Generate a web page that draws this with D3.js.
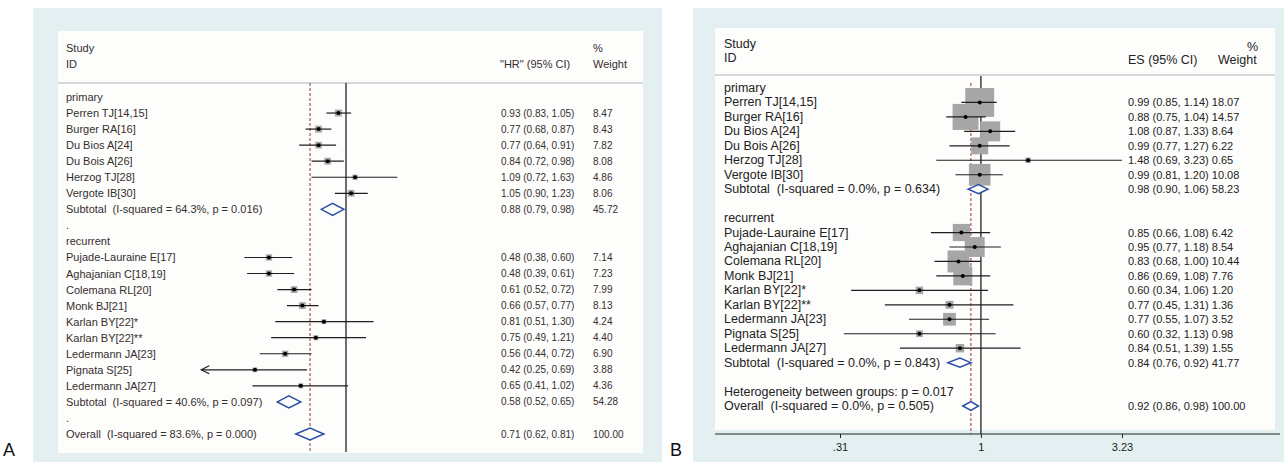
<!DOCTYPE html>
<html>
<head>
  <meta charset='utf-8'>
  <script src="https://d3js.org/d3.v7.min.js"></script>
  <style>
    body { margin: 0; background: #fff; }
    svg { display: block; font-family: 'Liberation Sans', Arial, sans-serif; }
    text { white-space: pre; }
  </style>
</head>
<body>
<script>
// Study labels (same order in both panels)
var primaryStudies = ['Perren TJ[14,15]', 'Burger RA[16]', 'Du Bios A[24]', 'Du Bois A[26]', 'Herzog TJ[28]', 'Vergote IB[30]'];
var recurrentStudies = ['Pujade-Lauraine E[17]', 'Aghajanian C[18,19]', 'Colemana RL[20]', 'Monk BJ[21]',
  'Karlan BY[22]*', 'Karlan BY[22]**', 'Ledermann JA[23]', 'Pignata S[25]', 'Ledermann JA[27]'];

// Panel A - HR per study
var hrA     = [0.93, 0.77, 0.77, 0.84, 1.09, 1.05, 0.48, 0.48, 0.61, 0.66, 0.81, 0.75, 0.56, 0.42, 0.65];
var hrLoA   = [0.83, 0.68, 0.64, 0.72, 0.72, 0.90, 0.38, 0.39, 0.52, 0.57, 0.51, 0.49, 0.44, 0.25, 0.41];
var hrHiA   = [1.05, 0.87, 0.91, 0.98, 1.63, 1.23, 0.60, 0.61, 0.72, 0.77, 1.30, 1.21, 0.72, 0.69, 1.02];
var weightA = [8.47, 8.43, 7.82, 8.08, 4.86, 8.06, 7.14, 7.23, 7.99, 8.13, 4.24, 4.40, 6.90, 3.88, 4.36];
var subLabelsA = ['Subtotal  (I-squared = 64.3%, p = 0.016)', 'Subtotal  (I-squared = 40.6%, p = 0.097)'];
var subEstA = [0.88, 0.58];
var subLoA  = [0.79, 0.52];
var subHiA  = [0.98, 0.65];
var subWA   = [45.72, 54.28];
var overallLabelA = 'Overall  (I-squared = 83.6%, p = 0.000)';
var overallA = [0.71, 0.62, 0.81, 100.00];

// Panel B - ES per study
var esB     = [0.99, 0.88, 1.08, 0.99, 1.48, 0.99, 0.85, 0.95, 0.83, 0.86, 0.60, 0.77, 0.77, 0.60, 0.84];
var esLoB   = [0.85, 0.75, 0.87, 0.77, 0.69, 0.81, 0.66, 0.77, 0.68, 0.69, 0.34, 0.45, 0.55, 0.32, 0.51];
var esHiB   = [1.14, 1.04, 1.33, 1.27, 3.23, 1.20, 1.08, 1.18, 1.00, 1.08, 1.06, 1.31, 1.07, 1.13, 1.39];
var weightB = [18.07, 14.57, 8.64, 6.22, 0.65, 10.08, 6.42, 8.54, 10.44, 7.76, 1.20, 1.36, 3.52, 0.98, 1.55];
var subLabelsB = ['Subtotal  (I-squared = 0.0%, p = 0.634)', 'Subtotal  (I-squared = 0.0%, p = 0.843)'];
var subEstB = [0.98, 0.84];
var subLoB  = [0.90, 0.76];
var subHiB  = [1.06, 0.92];
var subWB   = [58.23, 41.77];
var hetLabelB = 'Heterogeneity between groups: p = 0.017';
var overallLabelB = 'Overall  (I-squared = 0.0%, p = 0.505)';
var overallB = [0.92, 0.86, 0.98, 100.00];
var ticksB = [0.31, 1, 3.23];

var f2 = d3.format('.2f');

// Build the list of rows for a panel
function buildRows(est, lo, hi, w, subLabels, subEst, subLo, subHi, subW, blank, hetLabel, overallLabel, overall) {
  var rows = [];
  var groups = [['primary', primaryStudies, 0], ['recurrent', recurrentStudies, primaryStudies.length]];
  groups.forEach(function(g, gi) {
    rows.push({type: 'group', label: g[0]});
    g[1].forEach(function(name, j) {
      var i = g[2] + j;
      rows.push({type: 'study', label: name, est: est[i], lo: lo[i], hi: hi[i], w: w[i]});
    });
    rows.push({type: 'sub', label: subLabels[gi], est: subEst[gi], lo: subLo[gi], hi: subHi[gi], w: subW[gi]});
    rows.push({type: 'blank', label: blank});
  });
  if (hetLabel) rows.push({type: 'het', label: hetLabel});
  rows.push({type: 'overall', label: overallLabel, est: overall[0], lo: overall[1], hi: overall[2], w: overall[3]});
  return rows;
}

var svg = d3.select('body').append('svg').attr('width', 1284).attr('height', 462);

function drawPanel(rows, c) {
  var g = svg.append('g');
  // backgrounds
  g.append('rect').attr('x', c.outer[0]).attr('y', c.outer[1]).attr('width', c.outer[2]).attr('height', c.outer[3]).attr('fill', '#e4eff2');
  g.append('rect').attr('x', c.inner[0]).attr('y', c.inner[1]).attr('width', c.inner[2]).attr('height', c.inner[3]).attr('fill', '#fdfdfc');

  var x = c.x;
  var y = d3.scaleLinear().domain([0, rows.length - 1]).range([c.rowTop, c.rowBottom]);

  // header
  g.append('line').attr('x1', c.inner[0]).attr('x2', c.inner[0] + c.inner[2])
    .attr('y1', c.headLine).attr('y2', c.headLine).attr('stroke', '#a9b3b8').attr('stroke-width', 1.2);
  c.header.forEach(function(h) {
    g.append('text').attr('x', h[1]).attr('y', h[2]).attr('dominant-baseline', 'central')
      .style('font-size', c.nameSize + 'px').attr('fill', c.textColor).text(h[0]);
  });

  // null line and overall dashed line
  g.append('line').attr('x1', x(1)).attr('x2', x(1)).attr('y1', c.nullY[0]).attr('y2', c.nullY[1])
    .attr('stroke', '#222').attr('stroke-width', 1.3);
  var ov = rows[rows.length - 1];
  g.append('line').attr('x1', x(ov.est)).attr('x2', x(ov.est)).attr('y1', c.dashY[0]).attr('y2', c.dashY[1])
    .attr('stroke', '#a2474a').attr('stroke-width', 1.1).attr('stroke-dasharray', '3,2');

  var xmin = x.domain()[0], xmax = x.domain()[1];
  rows.forEach(function(r, i) {
    var yy = y(i);
    g.append('text').attr('x', c.nameX).attr('y', yy).attr('dominant-baseline', 'central')
      .style('font-size', c.nameSize + 'px').attr('fill', c.textColor).text(r.label);
    if (r.est === undefined) return;
    var txt = f2(r.est) + ' (' + f2(r.lo) + ', ' + f2(r.hi) + ')';
    if (c.weightX) {
      g.append('text').attr('x', c.estX).attr('y', yy).attr('dominant-baseline', 'central')
        .style('font-size', c.numSize + 'px').attr('fill', c.textColor).text(txt);
      g.append('text').attr('x', c.weightX).attr('y', yy).attr('dominant-baseline', 'central')
        .style('font-size', c.numSize + 'px').attr('fill', c.textColor).text(f2(r.w));
    } else {
      g.append('text').attr('x', c.estX).attr('y', yy).attr('dominant-baseline', 'central')
        .style('font-size', c.numSize + 'px').attr('fill', c.textColor).text(txt + ' ' + f2(r.w));
    }
    if (r.type === 'study') {
      var s = c.squareK * Math.sqrt(r.w);
      g.append('rect').attr('x', x(r.est) - s / 2).attr('y', yy - s / 2).attr('width', s).attr('height', s)
        .attr('fill', c.squareColor);
      var lo = Math.max(r.lo, xmin), hi = Math.min(r.hi, xmax);
      g.append('line').attr('x1', x(lo)).attr('x2', x(hi)).attr('y1', yy).attr('y2', yy)
        .attr('stroke', '#1e1e1e').attr('stroke-width', 1.2);
      if (r.lo < xmin) {
        g.append('path').attr('d', 'M' + (x(lo) + 8) + ',' + (yy - 4) + 'L' + x(lo) + ',' + yy + 'L' + (x(lo) + 8) + ',' + (yy + 4))
          .attr('fill', 'none').attr('stroke', '#1e1e1e').attr('stroke-width', 1.2);
      }
      g.append('circle').attr('cx', x(r.est)).attr('cy', yy).attr('r', 2).attr('fill', '#000');
    } else {
      var h = c.diamondH;
      g.append('path')
        .attr('d', 'M' + x(r.lo) + ',' + yy + 'L' + x(r.est) + ',' + (yy - h) + 'L' + x(r.hi) + ',' + yy + 'L' + x(r.est) + ',' + (yy + h) + 'Z')
        .attr('fill', '#fff').attr('stroke', '#2a4ea3').attr('stroke-width', 1.5);
    }
  });

  // panel letter
  g.append('text').attr('x', c.letter[1]).attr('y', c.letter[2]).style('font-size', '18px')
    .attr('fill', '#111').text(c.letter[0]);
  return g;
}

// Panel A
var rowsA = buildRows(hrA, hrLoA, hrHiA, weightA, subLabelsA, subEstA, subLoA, subHiA, subWA, '.', null, overallLabelA, overallA);
var xA = d3.scaleLog().domain([0.252, 3.97]).range([346 + 105 * Math.log(0.252), 346 + 105 * Math.log(3.97)]);
drawPanel(rowsA, {
  outer: [33, 8, 629, 454], inner: [58, 31, 585, 422],
  x: xA, rowTop: 97, rowBottom: 434, headLine: 83,
  header: [['Study', 66, 48], ['ID', 66, 64], ['"HR" (95% CI)', 500, 64], ['%', 593, 48], ['Weight', 593, 64]],
  nullY: [83, 452], dashY: [83, 452],
  nameX: 66, estX: 501, weightX: 593, nameSize: 11, numSize: 10,
  textColor: '#352e2e', squareK: 2.4, squareColor: '#a9a9a9', diamondH: 6,
  letter: ['A', 3, 456]
});

// Panel B
var rowsB = buildRows(esB, esLoB, esHiB, weightB, subLabelsB, subEstB, subLoB, subHiB, subWB, '', hetLabelB, overallLabelB, overallB);
var xB = d3.scaleLog().domain([0.31, 3.23]).range([840, 1122]);
var gB = drawPanel(rowsB, {
  outer: [693, 8, 591, 454], inner: [715, 28, 560, 402],
  x: xB, rowTop: 88, rowBottom: 406, headLine: 75,
  header: [['Study', 724, 44], ['ID', 724, 58], ['ES (95% CI)', 1128, 60], ['%', 1247, 47], ['Weight', 1218, 60]],
  nullY: [76, 434], dashY: [83, 434],
  nameX: 724, estX: 1128, weightX: null, nameSize: 12.5, numSize: 11,
  textColor: '#222', squareK: 6.8, squareColor: '#a6a6a6', diamondH: 4.5,
  letter: ['B', 670, 456]
});

// x axis for panel B
gB.append('line').attr('x1', 715).attr('x2', 1280).attr('y1', 434).attr('y2', 434)
  .attr('stroke', '#222').attr('stroke-width', 1.2);
var axisB = gB.append('g').attr('transform', 'translate(0,434)')
  .call(d3.axisBottom(xB).tickValues(ticksB).tickSize(4)
    .tickFormat(function(d) { return String(d).replace(/^0\./, '.'); }));
axisB.select('.domain').remove();
axisB.selectAll('line').attr('stroke', '#222');
axisB.selectAll('text').attr('fill', '#222').style('font-size', '11px')
  .style('font-family', "'Liberation Sans', Arial, sans-serif").attr('dy', '0.9em');
</script>
</body>
</html>
